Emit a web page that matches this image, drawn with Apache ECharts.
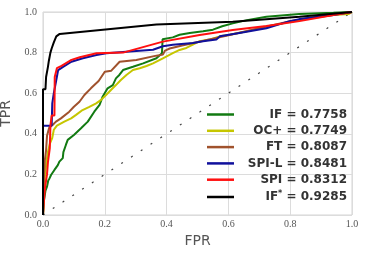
<!DOCTYPE html>
<html>
<head>
<meta charset="utf-8">
<script src="https://cdn.jsdelivr.net/npm/echarts@6/dist/echarts.min.js"></script>
<style>html,body{margin:0;padding:0;background:#fff;}#c{width:366px;height:255px;}</style>
</head>
<body>
<div id="c"></div>
<script>
const seriesNames = ['IF', 'OC+', 'FT', 'SPI-L', 'SPI', 'IF*'];
const aucValues = ['0.7758', '0.7749', '0.8087', '0.8481', '0.8312', '0.9285'];
const seriesColors = ['#127a12', '#c6c600', '#a0522d', '#10109c', '#ff1010', '#000000'];

const rocIF = [[0,0],[0.003,0.07],[0.008,0.12],[0.013,0.14],[0.017,0.17],[0.021,0.18],[0.026,0.197],[0.037,0.222],[0.048,0.246],[0.053,0.263],[0.064,0.28],[0.066,0.31],[0.074,0.345],[0.08,0.37],[0.1,0.394],[0.123,0.427],[0.145,0.46],[0.166,0.509],[0.183,0.542],[0.193,0.583],[0.209,0.624],[0.226,0.64],[0.236,0.673],[0.247,0.69],[0.259,0.714],[0.291,0.73],[0.324,0.747],[0.367,0.772],[0.385,0.797],[0.387,0.866],[0.42,0.875],[0.442,0.888],[0.475,0.897],[0.518,0.905],[0.55,0.913],[0.58,0.93],[0.614,0.944],[0.66,0.96],[0.723,0.977],[0.83,0.99],[0.94,0.996],[1,1]];
const rocOC = [[0,0],[0.003,0.1],[0.006,0.19],[0.012,0.27],[0.016,0.31],[0.022,0.35],[0.03,0.38],[0.035,0.42],[0.045,0.44],[0.069,0.46],[0.091,0.476],[0.107,0.493],[0.128,0.517],[0.15,0.533],[0.172,0.55],[0.188,0.567],[0.204,0.591],[0.22,0.616],[0.236,0.64],[0.252,0.665],[0.27,0.69],[0.291,0.714],[0.313,0.723],[0.335,0.734],[0.356,0.747],[0.388,0.772],[0.42,0.797],[0.442,0.813],[0.464,0.823],[0.485,0.839],[0.507,0.856],[0.539,0.864],[0.572,0.88],[0.604,0.888],[0.66,0.905],[0.723,0.928],[0.83,0.96],[0.94,0.985],[0.99,0.99],[1,1]];
const rocFT = [[0,0],[0.003,0.18],[0.006,0.27],[0.01,0.32],[0.013,0.39],[0.02,0.43],[0.031,0.443],[0.042,0.46],[0.058,0.476],[0.085,0.509],[0.1,0.533],[0.118,0.558],[0.134,0.591],[0.155,0.624],[0.18,0.66],[0.2,0.706],[0.221,0.711],[0.248,0.755],[0.302,0.764],[0.367,0.785],[0.388,0.79],[0.395,0.81],[0.41,0.82],[0.45,0.835],[0.52,0.858],[0.6,0.885],[0.7,0.92],[0.8,0.955],[0.9,0.98],[1,1]];
const rocSPIL = [[0,0],[0,0.44],[0.028,0.44],[0.03,0.55],[0.035,0.6],[0.043,0.665],[0.049,0.714],[0.065,0.73],[0.092,0.755],[0.129,0.772],[0.173,0.788],[0.205,0.797],[0.356,0.814],[0.388,0.831],[0.42,0.839],[0.485,0.847],[0.518,0.856],[0.561,0.864],[0.572,0.88],[0.636,0.897],[0.723,0.92],[0.798,0.955],[0.83,0.965],[0.94,0.985],[1,1]];
const rocSPI = [[0,0],[0.003,0.07],[0.006,0.13],[0.013,0.2],[0.016,0.26],[0.022,0.33],[0.024,0.44],[0.028,0.49],[0.037,0.49],[0.038,0.68],[0.045,0.723],[0.06,0.735],[0.092,0.764],[0.119,0.777],[0.173,0.797],[0.259,0.80],[0.388,0.854],[0.507,0.887],[0.614,0.911],[0.723,0.931],[0.83,0.955],[0.94,0.985],[1,1]];
const rocIFstar = [[0,0],[0,0.62],[0.008,0.62],[0.01,0.68],[0.016,0.73],[0.019,0.76],[0.024,0.80],[0.028,0.82],[0.035,0.85],[0.043,0.88],[0.054,0.892],[0.367,0.938],[0.614,0.952],[0.83,0.977],[1,1]];
const chanceLine = [[0,0],[1,1]];

const rocData = [rocIF, rocOC, rocFT, rocSPIL, rocSPI, rocIFstar];

const chart = echarts.init(document.getElementById('c'));
const tickFont = {fontFamily: 'Liberation Serif', fontSize: 10, color: '#555'};
const legendText = {fontFamily: 'DejaVu Sans', fontSize: 12, fontWeight: 'bold', color: '#333', lineHeight: 14, align: 'right'};

const series = [{
  name: 'chance', type: 'line', data: chanceLine, symbol: 'none', silent: true,
  lineStyle: {color: '#444', width: 1.2, type: [2, 9.7]}, z: 1
}];
seriesNames.forEach((n, i) => {
  series.push({
    name: n, type: 'line', data: rocData[i], symbol: 'none', clip: false,
    lineStyle: {color: seriesColors[i], width: 2}, itemStyle: {color: seriesColors[i]},
    z: 2 + i
  });
});

chart.setOption({
  animation: false,
  backgroundColor: '#fff',
  grid: {left: 43, right: 14, top: 12, bottom: 40, show: true, borderColor: '#d4d4d4', borderWidth: 1, containLabel: false, outerBoundsMode: 'none'},
  xAxis: {
    type: 'value', min: 0, max: 1, interval: 0.2,
    name: 'FPR', nameLocation: 'middle', nameGap: 18,
    nameTextStyle: {fontFamily: 'DejaVu Sans', fontSize: 14, color: '#555'},
    axisLine: {show: false}, axisTick: {show: false},
    axisLabel: Object.assign({margin: 4, formatter: v => v.toFixed(1)}, tickFont),
    splitLine: {lineStyle: {color: '#dcdcdc', width: 1}}
  },
  yAxis: {
    type: 'value', min: 0, max: 1, interval: 0.2,
    name: 'TPR', nameLocation: 'middle', nameGap: 20,
    nameTextStyle: {fontFamily: 'DejaVu Sans', fontSize: 14, color: '#555'},
    axisLine: {show: false}, axisTick: {show: false},
    axisLabel: Object.assign({margin: 6, formatter: v => v.toFixed(1)}, tickFont),
    splitLine: {lineStyle: {color: '#dcdcdc', width: 1}}
  },
  legend: {
    data: seriesNames,
    orient: 'vertical', left: 207, top: 108.5, padding: 0,
    itemGap: 4.3, itemWidth: 27, itemHeight: 2.5, icon: 'rect',
    textStyle: {width: 108, rich: {
      t: legendText,
      s: {fontFamily: 'DejaVu Sans', fontSize: 8, fontWeight: 'bold', color: '#333', lineHeight: 8, verticalAlign: 'top', align: 'right'}
    }},
    formatter: function (name) {
      const v = aucValues[seriesNames.indexOf(name)];
      if (name === 'IF*') return '{t|IF}{s|*}{t| = ' + v + '}';
      return '{t|' + name + ' = ' + v + '}';
    }
  },
  series: series
});
</script>
</body>
</html>
